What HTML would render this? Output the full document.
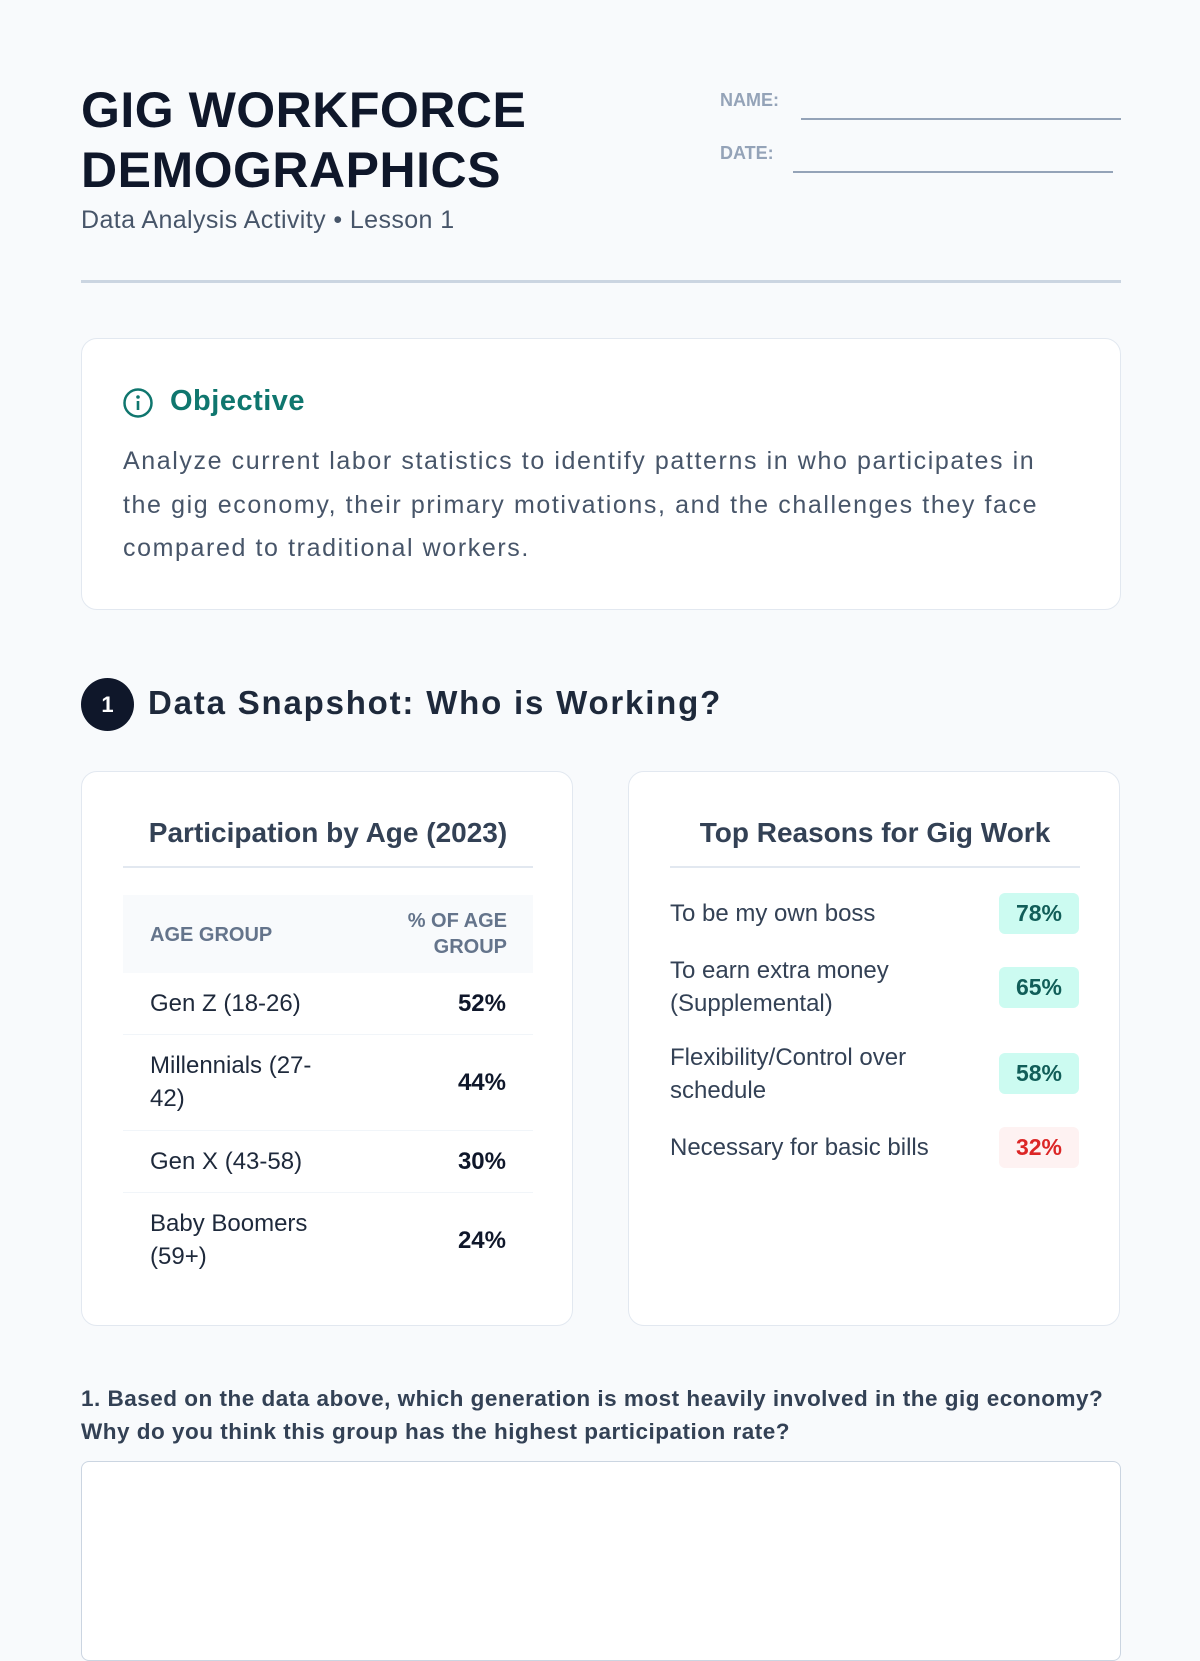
<!DOCTYPE html>
<html><head><meta charset="utf-8"><style>
*{box-sizing:border-box;margin:0;padding:0}
body{width:1200px;height:1600px;background:#f8fafc;font-family:"Liberation Sans",sans-serif;position:relative;overflow:hidden;color:#334155}
.a{position:absolute}
.card{position:absolute;background:#fff;border:1.5px solid #e2e8f0;border-radius:16px}
.title{left:81px;top:80px;font-size:50px;font-weight:bold;line-height:60px;color:#0f172a;letter-spacing:0.5px}
.lbl{font-size:18px;font-weight:bold;color:#94a3b8}
.line{height:2px;background:#94a3b8}
.td{font-size:24px;color:#1e293b;white-space:nowrap}
.pct{font-size:24px;font-weight:bold;color:#0f172a;text-align:right}
.row{position:absolute;left:41px;width:410px;border-bottom:1.5px solid #f1f5f9}
.badge{position:absolute;right:40px;width:80px;height:41px;border-radius:6px;font-size:23px;font-weight:bold;text-align:center;line-height:41px}
.g{background:#ccfbf1;color:#115e59}
.r{background:#fef2f2;color:#dc2626}
.rs{position:absolute;left:41px;font-size:24px;line-height:33px;color:#334155;white-space:nowrap}
</style></head><body>
<div class="a title">GIG WORKFORCE<br>DEMOGRAPHICS</div>
<div class="a" style="left:81px;top:206px;font-size:25px;color:#475569;letter-spacing:0.4px">Data Analysis Activity • Lesson 1</div>
<div class="a lbl" style="left:720px;top:90px">NAME:</div>
<div class="a line" style="left:801px;top:118px;width:320px"></div>
<div class="a lbl" style="left:720px;top:143px">DATE:</div>
<div class="a line" style="left:793px;top:171px;width:320px"></div>
<div class="a" style="left:81px;top:280px;width:1040px;height:3px;background:#cbd5e1"></div>

<div class="card" style="left:81px;top:338px;width:1040px;height:272px">
 <svg class="a" style="left:40px;top:48px" width="32" height="32" viewBox="0 0 32 32"><circle cx="16" cy="16" r="13.5" fill="none" stroke="#0f766e" stroke-width="2.5"/><circle cx="16" cy="10" r="1.8" fill="#0f766e"/><rect x="14.7" y="14" width="2.6" height="9" fill="#0f766e"/></svg>
 <div class="a" style="left:88px;top:46px;font-size:29px;font-weight:bold;color:#0f766e;letter-spacing:0.5px">Objective</div>
 <div class="a" style="left:41px;top:101px;white-space:nowrap;font-size:25px;letter-spacing:1.6px;line-height:43.5px;color:#475569">Analyze current labor statistics to identify patterns in who participates in<br>the gig economy, their primary motivations, and the challenges they face<br>compared to traditional workers.</div>
</div>

<div class="a" style="left:81px;top:678px;width:53px;height:53px;border-radius:50%;background:#0f172a;color:#fff;font-weight:bold;font-size:22px;text-align:center;line-height:53px">1</div>
<div class="a" style="left:148px;top:684px;font-size:33px;font-weight:bold;color:#1e293b;letter-spacing:1.8px">Data Snapshot: Who is Working?</div>

<div class="card" style="left:81px;top:771px;width:492px;height:555px">
 <div class="a" style="left:0;top:45px;width:492px;text-align:center;font-size:28px;font-weight:bold;color:#334155">Participation by Age (2023)</div>
 <div class="a" style="left:41px;top:94px;width:410px;height:2px;background:#e2e8f0"></div>
 <div class="a" style="left:41px;top:123px;width:410px;height:78px;background:#f8fafc"></div>
 <div class="a lbl" style="left:68px;top:152px;color:#64748b;font-size:20px">AGE GROUP</div>
 <div class="a lbl" style="left:260px;top:136px;width:165px;text-align:right;color:#64748b;font-size:20px;line-height:26px">% OF AGE<br>GROUP</div>
 <div class="row" style="top:201px;height:62px"><div class="a td" style="left:27px;top:17px">Gen Z (18-26)</div><div class="a pct" style="right:27px;top:17px">52%</div></div>
 <div class="row" style="top:263px;height:96px"><div class="a td" style="left:27px;top:14px;line-height:33px">Millennials (27-<br>42)</div><div class="a pct" style="right:27px;top:34px">44%</div></div>
 <div class="row" style="top:359px;height:62px"><div class="a td" style="left:27px;top:17px">Gen X (43-58)</div><div class="a pct" style="right:27px;top:17px">30%</div></div>
 <div class="row" style="top:421px;height:96px;border:none"><div class="a td" style="left:27px;top:14px;line-height:33px">Baby Boomers<br>(59+)</div><div class="a pct" style="right:27px;top:34px">24%</div></div>
</div>

<div class="card" style="left:628px;top:771px;width:492px;height:555px">
 <div class="a" style="left:0;top:45px;width:492px;text-align:center;font-size:28px;font-weight:bold;color:#334155">Top Reasons for Gig Work</div>
 <div class="a" style="left:41px;top:94px;width:410px;height:2px;background:#e2e8f0"></div>
 <div class="rs" style="top:125px">To be my own boss</div><div class="badge g" style="top:121px">78%</div>
 <div class="rs" style="top:182px">To earn extra money<br>(Supplemental)</div><div class="badge g" style="top:195px">65%</div>
 <div class="rs" style="top:269px">Flexibility/Control over<br>schedule</div><div class="badge g" style="top:281px">58%</div>
 <div class="rs" style="top:359px">Necessary for basic bills</div><div class="badge r" style="top:355px">32%</div>
</div>

<div class="a" style="left:81px;top:1382px;white-space:nowrap;font-size:22.5px;letter-spacing:0.5px;font-weight:bold;line-height:33px;color:#334155">1. Based on the data above, which generation is most heavily involved in the gig economy?<br>Why do you think this group has the highest participation rate?</div>
<div class="card" style="left:81px;top:1461px;width:1040px;height:200px;border-radius:8px;border-color:#cbd5e1"></div>
</body></html>
